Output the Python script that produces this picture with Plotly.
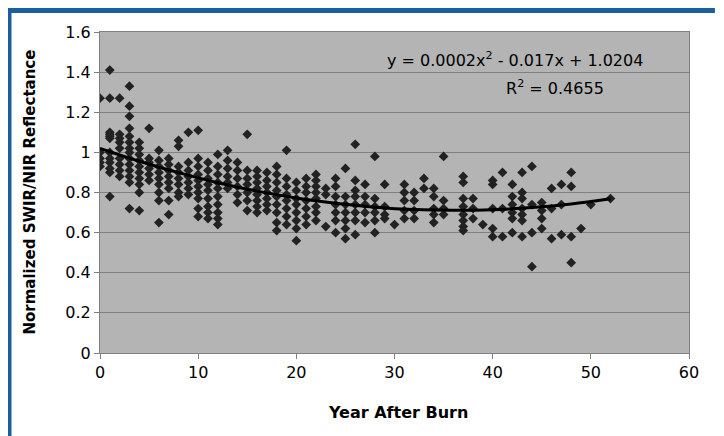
import plotly.graph_objects as go

# ---- data ----
scatter_data = {
    0: [1.27, 1.00, 0.97, 0.95, 0.93],
    1: [1.41, 1.27, 1.10, 1.09, 1.08, 1.07, 1.00, 0.97, 0.95, 0.92, 0.90, 0.78],
    2: [1.27, 1.09, 1.07, 1.05, 1.02, 0.97, 0.94, 0.91, 0.88],
    3: [1.33, 1.23, 1.18, 1.12, 1.08, 1.05, 1.02, 1.00, 0.97, 0.94, 0.91, 0.88, 0.85, 0.72],
    4: [1.05, 1.02, 0.99, 0.96, 0.93, 0.90, 0.87, 0.84, 0.80, 0.71],
    5: [1.12, 0.97, 0.95, 0.92, 0.89, 0.86],
    6: [1.01, 0.96, 0.93, 0.90, 0.87, 0.84, 0.80, 0.76, 0.65],
    7: [0.97, 0.94, 0.91, 0.88, 0.85, 0.82, 0.76, 0.69],
    8: [1.06, 1.03, 0.93, 0.90, 0.87, 0.84, 0.80, 0.78],
    9: [1.10, 0.95, 0.91, 0.88, 0.85, 0.82, 0.79],
    10: [1.11, 0.97, 0.93, 0.89, 0.86, 0.83, 0.80, 0.77, 0.72, 0.68],
    11: [0.95, 0.91, 0.87, 0.84, 0.81, 0.77, 0.73, 0.70, 0.67],
    12: [0.99, 0.93, 0.89, 0.85, 0.82, 0.78, 0.74, 0.70, 0.67, 0.64],
    13: [1.01, 0.96, 0.92, 0.88, 0.85, 0.82],
    14: [0.95, 0.91, 0.87, 0.83, 0.79, 0.75],
    15: [1.09, 0.91, 0.87, 0.84, 0.80, 0.76, 0.71],
    16: [0.91, 0.88, 0.85, 0.82, 0.79, 0.76, 0.73, 0.70],
    17: [0.90, 0.86, 0.83, 0.80, 0.77, 0.74, 0.71],
    18: [0.93, 0.89, 0.85, 0.81, 0.78, 0.74, 0.70, 0.65, 0.61],
    19: [1.01, 0.87, 0.83, 0.79, 0.76, 0.72, 0.68, 0.64],
    20: [0.85, 0.81, 0.77, 0.74, 0.70, 0.66, 0.62, 0.56],
    21: [0.87, 0.83, 0.80, 0.76, 0.72, 0.68, 0.64],
    22: [0.89, 0.86, 0.83, 0.80, 0.77, 0.73, 0.70, 0.66],
    23: [0.82, 0.79, 0.63],
    24: [0.87, 0.83, 0.78, 0.74, 0.70, 0.66, 0.60],
    25: [0.92, 0.78, 0.74, 0.70, 0.66, 0.62, 0.57],
    26: [1.04, 0.86, 0.81, 0.78, 0.74, 0.70, 0.66, 0.59],
    27: [0.84, 0.78, 0.74, 0.70, 0.65],
    28: [0.98, 0.77, 0.73, 0.70, 0.66, 0.60],
    29: [0.84, 0.73, 0.69, 0.67],
    30: [0.64],
    31: [0.84, 0.80, 0.76, 0.71, 0.67],
    32: [0.80, 0.76, 0.71, 0.67],
    33: [0.87, 0.82],
    34: [0.82, 0.78, 0.72, 0.69, 0.65],
    35: [0.98, 0.76, 0.72, 0.69],
    37: [0.88, 0.85, 0.77, 0.73, 0.69, 0.66, 0.63, 0.61],
    38: [0.77, 0.72, 0.67],
    39: [0.64],
    40: [0.86, 0.84, 0.72, 0.62, 0.58],
    41: [0.90, 0.72, 0.58],
    42: [0.84, 0.78, 0.74, 0.70, 0.67, 0.60],
    43: [0.90, 0.80, 0.77, 0.72, 0.69, 0.66, 0.58],
    44: [0.93, 0.74, 0.60, 0.43],
    45: [0.75, 0.71, 0.67, 0.62],
    46: [0.82, 0.72, 0.57],
    47: [0.84, 0.74, 0.59],
    48: [0.90, 0.83, 0.58, 0.45],
    49: [0.62],
    50: [0.74],
    52: [0.77],
}

trend_x = [0, 4, 8, 12, 16, 20, 24, 28, 32, 36, 40, 44, 48, 52]
trend_y = [1.020, 0.956, 0.899, 0.849, 0.807, 0.773, 0.746, 0.727,
           0.715, 0.711, 0.714, 0.725, 0.743, 0.769]

x_ticks = [0, 10, 20, 30, 40, 50, 60]
y_ticks = [0, 0.2, 0.4, 0.6, 0.8, 1.0, 1.2, 1.4, 1.6]
y_tick_text = ["0", "0.2", "0.4", "0.6", "0.8", "1", "1.2", "1.4", "1.6"]

x_title = "Year After Burn"
y_title = "Normalized SWIR/NIR Reflectance"
equation_text = "y = 0.0002x<sup>2</sup> - 0.017x + 1.0204"
r2_text = "R<sup>2</sup> = 0.4655"

xs, ys = [], []
for yr, vals in scatter_data.items():
    for v in vals:
        xs.append(yr)
        ys.append(v)

FONT = "DejaVu Sans, Arial, sans-serif"
BLUE = "#1b5e9e"

fig = go.Figure()
fig.add_trace(go.Scatter(
    x=xs, y=ys, mode="markers",
    marker=dict(symbol="diamond", size=7.5, color="#222222", line=dict(width=0)),
    showlegend=False, hoverinfo="skip"))
fig.add_trace(go.Scatter(
    x=trend_x, y=trend_y, mode="lines",
    line=dict(color="black", width=3, shape="spline"),
    showlegend=False, hoverinfo="skip"))

axis_common = dict(
    showline=True, linecolor="#808080", linewidth=1, mirror=True,
    ticks="outside", ticklen=5, tickcolor="#808080",
    tickfont=dict(family=FONT, size=16, color="black"),
    zeroline=False,
)

fig.update_layout(
    width=724, height=436,
    margin=dict(l=92, r=43, t=24, b=91),
    paper_bgcolor="white", plot_bgcolor="#b4b4b4",
    font=dict(family=FONT, color="black"),
    xaxis=dict(range=[0, 60], tickvals=x_ticks, showgrid=False, **axis_common),
    yaxis=dict(range=[0, 1.6], tickvals=y_ticks, ticktext=y_tick_text,
               showgrid=True, gridcolor="#808080", gridwidth=1, **axis_common),
    annotations=[
        dict(x=0.705, y=0.913, xref="paper", yref="paper", text=equation_text,
             showarrow=False, font=dict(family=FONT, size=16, color="black"),
             xanchor="center", yanchor="middle"),
        dict(x=0.772, y=0.826, xref="paper", yref="paper", text=r2_text,
             showarrow=False, font=dict(family=FONT, size=16, color="black"),
             xanchor="center", yanchor="middle"),
        dict(x=0.506, y=-0.184, xref="paper", yref="paper",
             text="<b>" + x_title + "</b>", showarrow=False,
             font=dict(family=FONT, size=16, color="black"),
             xanchor="center", yanchor="middle"),
        dict(x=-0.1205, y=0.5, xref="paper", yref="paper",
             text="<b>" + y_title + "</b>", showarrow=False, textangle=-90,
             font=dict(family=FONT, size=15, color="black"),
             xanchor="center", yanchor="middle"),
    ],
    shapes=[
        dict(type="line", xref="paper", yref="paper",
             x0=-0.1545, x1=1.044, y0=1.067, y1=1.067,
             line=dict(color=BLUE, width=5)),
        dict(type="line", xref="paper", yref="paper",
             x0=-0.1545, x1=-0.1545, y0=1.075, y1=-0.3,
             line=dict(color=BLUE, width=5)),
    ],
)

fig.write_html("out.html")
